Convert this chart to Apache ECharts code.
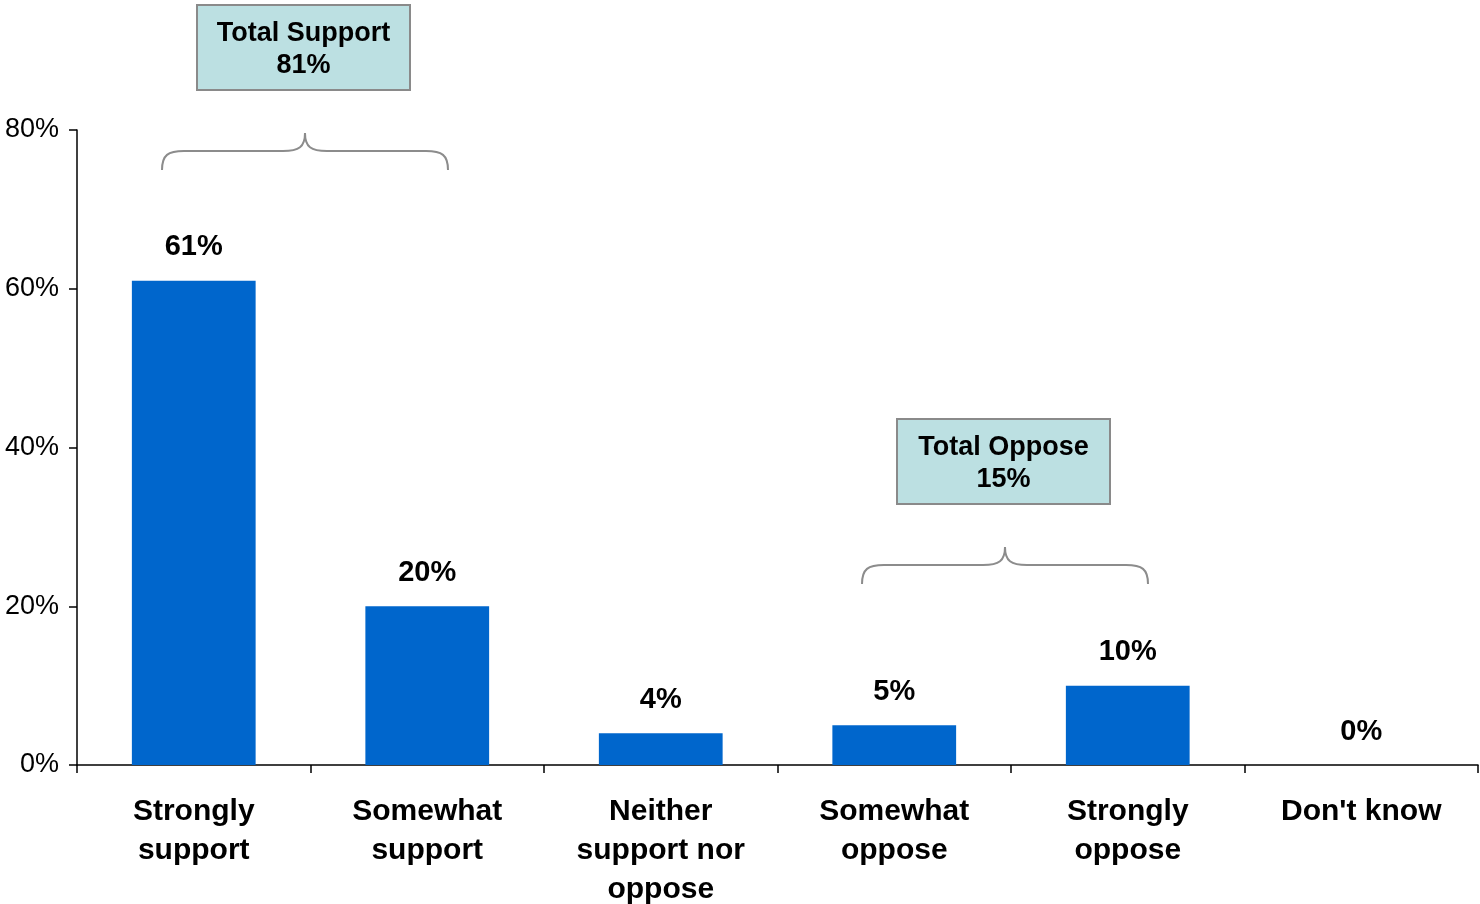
<!DOCTYPE html>
<html>
<head>
<meta charset="utf-8">
<script src="https://cdn.jsdelivr.net/npm/echarts@6/dist/echarts.min.js"></script>
<style>
  html, body { margin: 0; padding: 0; background: #ffffff; }
  #chart { width: 1480px; height: 904px; }
</style>
</head>
<body>
<div id="chart"></div>
<script>
// Survey responses (percent of respondents)
const categories = ['Strongly\nsupport', 'Somewhat\nsupport', 'Neither\nsupport nor\noppose', 'Somewhat\noppose', 'Strongly\noppose', "Don't know"];
const values = [61, 20, 4, 5, 10, 0];
const yTicks = [0, 20, 40, 60, 80];

// Grouped totals shown above curly braces
const groupNames = ['Total Support', 'Total Oppose'];
const groupMembers = [[0, 1], [3, 4]];
const braceBaseValue = [75, 22.8];   // y value (percent) where each brace's ends sit

const FONT = '"Liberation Sans", Arial, Helvetica, sans-serif';
const chart = echarts.init(document.getElementById('chart'), null, { renderer: 'canvas' });

chart.setOption({
  animation: false,
  backgroundColor: '#ffffff',
  grid: { left: 77, right: 2, top: 130, bottom: 139, containLabel: false, outerBoundsMode: 'none' },
  xAxis: {
    type: 'category',
    data: categories,
    axisLine: { lineStyle: { color: '#000', width: 1.5 } },
    axisTick: { show: true, length: 8, alignWithLabel: false, lineStyle: { color: '#000', width: 1.5 } },
    axisLabel: {
      interval: 0, margin: 27, color: '#000', fontFamily: FONT, fontWeight: 'bold',
      fontSize: 30, lineHeight: 39
    },
    splitLine: { show: false }
  },
  yAxis: {
    type: 'value',
    min: yTicks[0], max: yTicks[yTicks.length - 1], interval: yTicks[1] - yTicks[0],
    axisLine: { show: true, lineStyle: { color: '#000', width: 1.5 } },
    axisTick: { show: true, length: 8, inside: false, lineStyle: { color: '#000', width: 1.5 } },
    axisLabel: { formatter: '{value}%', margin: 18, color: '#000', fontFamily: FONT, fontSize: 27 },
    splitLine: { show: false }
  },
  series: [{
    type: 'bar',
    data: values,
    barWidth: '53%',
    itemStyle: { color: '#0066cc' },
    label: {
      show: true, position: 'top', distance: 19, formatter: '{c}%',
      color: '#000', fontFamily: FONT, fontWeight: 'bold', fontSize: 29
    }
  }]
});

// Curly brace built from straight runs and bezier corners
function braceElements(x0, x1, yBase) {
  const xc = (x0 + x1) / 2;
  const ym = yBase - 19, yt = yBase - 37, r = 22;
  const st = { fill: null, stroke: '#8c8c8c', lineWidth: 2 };
  const curve = function (ax, ay, c1x, c1y, c2x, c2y, bx, by) {
    return { type: 'bezierCurve', shape: { x1: ax, y1: ay, cpx1: c1x, cpy1: c1y, cpx2: c2x, cpy2: c2y, x2: bx, y2: by }, style: st };
  };
  const line = function (ax, ay, bx, by) {
    return { type: 'line', shape: { x1: ax, y1: ay, x2: bx, y2: by }, style: st };
  };
  return {
    xc: xc, yt: yt,
    items: [
      curve(x0, yBase, x0, ym + 4, x0 + 6, ym, x0 + r, ym),
      line(x0 + r, ym, xc - r, ym),
      curve(xc - r, ym, xc - 6, ym, xc, ym - 4, xc, yt),
      curve(xc, yt, xc, ym - 4, xc + 6, ym, xc + r, ym),
      line(xc + r, ym, x1 - r, ym),
      curve(x1 - r, ym, x1 - 6, ym, x1, ym + 4, x1, yBase)
    ]
  };
}

const graphics = [];
const c0 = chart.convertToPixel({ xAxisIndex: 0, yAxisIndex: 0 }, [0, 0]);
const c1 = chart.convertToPixel({ xAxisIndex: 0, yAxisIndex: 0 }, [1, 0]);
const band = c1[0] - c0[0];
groupMembers.forEach(function (members, g) {
  const first = chart.convertToPixel({ xAxisIndex: 0, yAxisIndex: 0 }, [members[0], braceBaseValue[g]]);
  const last = chart.convertToPixel({ xAxisIndex: 0, yAxisIndex: 0 }, [members[members.length - 1], braceBaseValue[g]]);
  const x0 = Math.round(first[0] - band * 0.138);
  const x1 = Math.round(last[0] + band * 0.088);
  const b = braceElements(x0, x1, Math.round(first[1]));
  b.items.forEach(function (el) { graphics.push(el); });
  const total = members.reduce(function (s, i) { return s + values[i]; }, 0);
  const w = 213, h = 85;
  const bx = Math.round(b.xc - 2 - w / 2), by = Math.round(b.yt - 43 - h);
  graphics.push({
    type: 'rect',
    shape: { x: bx, y: by, width: w, height: h },
    style: { fill: '#bce0e2', stroke: '#8a8a8a', lineWidth: 2 }
  });
  graphics.push({
    type: 'text',
    x: bx + w / 2, y: by + h / 2 + 2,
    style: {
      text: groupNames[g] + '\n' + total + '%',
      font: 'bold 27px ' + FONT, lineHeight: 32,
      fill: '#000', align: 'center', verticalAlign: 'middle'
    }
  });
});
chart.setOption({ graphic: graphics });
</script>
</body>
</html>
